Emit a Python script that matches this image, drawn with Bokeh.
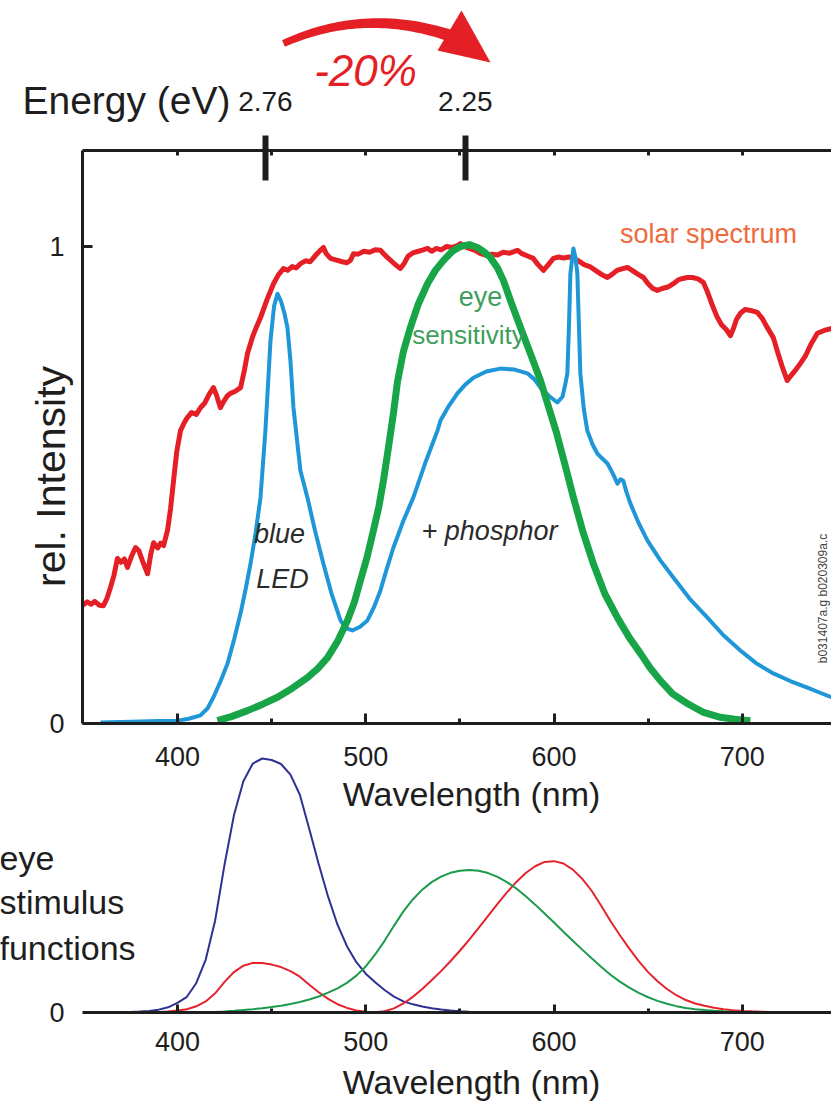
import numpy as np
from bokeh.plotting import figure
from bokeh.models import Range1d, FixedTicker, LinearAxis, Label
from bokeh.layouts import column
from bokeh.embed import file_html
from bokeh.resources import INLINE

# ---------------- data ----------------
solar_nm = [349.5, 352.0, 354.0, 356.0, 358.5, 360.7, 362.5, 364.4, 366.2, 368.1, 370.0, 371.8, 373.4,
            375.5, 377.7, 379.5, 381.5, 384.1, 385.8, 387.3, 389.5, 391.0, 392.6, 394.7, 396.3, 397.9,
            399.6, 401.6, 403.5, 405.3, 407.5, 410.0, 412.2, 414.5, 416.8, 419.1, 420.6, 422.8, 424.5,
            426.3, 428.1, 430.5, 433.5, 435.5, 437.2, 440.0, 442.0, 444.1, 447.5, 451.0, 453.5, 456.3,
            458.5, 461.0, 463.0, 465.3, 468.0, 470.5, 473.0, 475.9, 477.5, 479.0, 481.3, 484.0, 487.5,
            490.0, 491.9, 493.5, 496.0, 499.0, 502.0, 505.0, 507.8, 509.5, 511.5, 514.0, 516.3, 518.4,
            520.5, 522.5, 525.3, 528.0, 530.5, 532.8, 535.0, 537.5, 540.0, 543.0, 546.0, 548.7, 550.3,
            552.5, 555.0, 558.0, 561.0, 564.6, 567.0, 570.0, 573.0, 576.5, 580.6, 583.0, 586.0, 589.0,
            591.5, 594.4, 597.0, 599.7, 602.5, 605.0, 608.0, 610.3, 613.0, 616.0, 619.0, 622.0, 625.0,
            628.4, 631.0, 633.5, 636.0, 639.0, 641.5, 644.5, 647.5, 650.0, 652.5, 654.9, 657.5, 660.5,
            663.4, 666.0, 668.5, 670.8, 673.5, 676.5, 679.3, 681.5, 684.0, 686.8, 689.0, 691.5, 693.7,
            695.5, 697.0, 699.0, 701.5, 704.5, 708.0, 710.5, 713.0, 716.5, 719.0, 721.5, 723.9, 726.0,
            728.5, 730.9, 733.5, 736.5, 739.9, 743.5, 747.4]
solar_rel = [0.247, 0.255, 0.250, 0.256, 0.248, 0.247, 0.262, 0.285, 0.310, 0.346, 0.338, 0.345, 0.327,
             0.350, 0.369, 0.362, 0.340, 0.314, 0.355, 0.379, 0.368, 0.378, 0.373, 0.405, 0.450, 0.509,
             0.570, 0.614, 0.630, 0.642, 0.652, 0.648, 0.662, 0.672, 0.690, 0.704, 0.690, 0.662, 0.675,
             0.686, 0.692, 0.696, 0.704, 0.740, 0.776, 0.812, 0.832, 0.851, 0.888, 0.922, 0.940, 0.954,
             0.950, 0.958, 0.955, 0.964, 0.970, 0.968, 0.980, 0.992, 0.998, 0.985, 0.975, 0.972, 0.968,
             0.966, 0.971, 0.985, 0.984, 0.990, 0.988, 0.993, 0.992, 0.985, 0.977, 0.968, 0.960, 0.954,
             0.965, 0.980, 0.987, 0.990, 0.993, 0.996, 0.990, 0.996, 0.993, 1.000, 0.998, 1.002, 1.006,
             1.000, 0.996, 0.992, 0.985, 0.981, 0.984, 0.982, 0.988, 0.986, 0.992, 0.985, 0.980, 0.975,
             0.962, 0.950, 0.962, 0.975, 0.978, 0.976, 0.978, 0.975, 0.970, 0.962, 0.958, 0.950, 0.942,
             0.935, 0.942, 0.950, 0.953, 0.956, 0.950, 0.942, 0.935, 0.922, 0.912, 0.908, 0.912, 0.915,
             0.922, 0.930, 0.933, 0.935, 0.935, 0.932, 0.925, 0.905, 0.878, 0.851, 0.836, 0.826, 0.813,
             0.830, 0.848, 0.860, 0.868, 0.866, 0.862, 0.850, 0.832, 0.809, 0.776, 0.745, 0.719, 0.730,
             0.742, 0.755, 0.770, 0.795, 0.818, 0.824, 0.828]

led_nm = [359.1, 370.0, 380.4, 390.0, 400.0, 406.0, 412.2, 416.0, 419.1, 422.8, 426.6, 430.0, 433.5,
          436.2, 438.8, 441.5, 444.1, 446.7, 449.4, 451.3, 453.1, 455.0, 456.8, 458.4, 460.0, 461.6,
          465.3, 469.0, 473.0, 477.5, 482.0, 486.6, 489.5, 492.9, 497.0, 500.9, 504.5, 507.8, 511.0,
          514.7, 520.0, 525.3, 531.5, 538.1, 539.7, 544.0, 548.7, 553.0, 557.2, 564.0, 571.5, 579.0,
          585.9, 589.5, 592.8, 597.5, 601.8, 604.5, 606.2, 607.1, 608.0, 608.7, 610.3, 611.5, 612.4,
          613.2, 614.0, 615.8, 617.7, 620.5, 623.0, 625.5, 628.4, 631.0, 633.7, 635.3, 636.8, 638.5,
          640.6, 645.0, 649.6, 656.5, 663.4, 672.0, 681.5, 690.0, 699.0, 707.5, 716.5, 725.5, 734.6,
          741.0, 747.4]
led_rel = [0.002, 0.003, 0.004, 0.005, 0.006, 0.010, 0.017, 0.032, 0.055, 0.088, 0.126, 0.175, 0.231,
           0.282, 0.335, 0.400, 0.474, 0.614, 0.803, 0.875, 0.901, 0.885, 0.860, 0.830, 0.760, 0.662,
           0.530, 0.474, 0.405, 0.335, 0.270, 0.216, 0.200, 0.195, 0.203, 0.216, 0.245, 0.279, 0.322,
           0.369, 0.425, 0.474, 0.545, 0.614, 0.635, 0.665, 0.692, 0.711, 0.725, 0.738, 0.744, 0.742,
           0.734, 0.722, 0.704, 0.686, 0.673, 0.685, 0.715, 0.734, 0.840, 0.943, 0.996, 0.975, 0.943,
           0.840, 0.734, 0.660, 0.614, 0.585, 0.566, 0.556, 0.545, 0.526, 0.503, 0.512, 0.509, 0.485,
           0.461, 0.420, 0.384, 0.342, 0.306, 0.262, 0.222, 0.185, 0.153, 0.126, 0.105, 0.089, 0.075,
           0.065, 0.055]

eye_nm = [421.2, 429.0, 437.2, 445.0, 453.1, 461.0, 469.0, 474.5, 479.7, 485.0, 490.3, 494.0, 497.2,
          500.8, 504.1, 507.0, 509.4, 512.3, 514.7, 516.8, 520.0, 523.7, 528.0, 532.8, 537.0, 541.3,
          546.0, 550.3, 555.0, 559.3, 563.0, 566.2, 570.0, 573.1, 577.5, 582.2, 587.5, 592.8, 597.0,
          601.3, 606.0, 610.3, 615.5, 620.9, 627.0, 633.7, 640.0, 645.9, 651.0, 656.5, 663.0, 670.8,
          679.0, 688.4, 696.0, 704.3]
eye_rel = [0.006, 0.015, 0.027, 0.040, 0.055, 0.074, 0.096, 0.115, 0.138, 0.172, 0.216, 0.255, 0.300,
           0.350, 0.405, 0.455, 0.509, 0.585, 0.650, 0.715, 0.780, 0.830, 0.880, 0.922, 0.950, 0.971,
           0.990, 1.000, 1.004, 0.998, 0.988, 0.977, 0.955, 0.929, 0.880, 0.830, 0.775, 0.719, 0.665,
           0.610, 0.540, 0.474, 0.400, 0.335, 0.272, 0.222, 0.180, 0.147, 0.117, 0.090, 0.062, 0.042,
           0.024, 0.013, 0.009, 0.006]

# eye stimulus (colour matching) functions, 360..720 nm every 5 nm
cmf_nm = list(range(360, 725, 5))
cmf_red = [0.000130, 0.000232, 0.000415, 0.000742, 0.001368, 0.002236, 0.004243, 0.007650, 0.014310,
           0.023190, 0.043510, 0.077630, 0.134380, 0.214770, 0.283900, 0.328500, 0.348280, 0.348060,
           0.336200, 0.318700, 0.290800, 0.251100, 0.195360, 0.142100, 0.095640, 0.057950, 0.032010,
           0.014700, 0.004900, 0.002400, 0.009300, 0.029100, 0.063270, 0.109600, 0.165500, 0.225750,
           0.290400, 0.359700, 0.433450, 0.512050, 0.594500, 0.678400, 0.762100, 0.842500, 0.916300,
           0.978600, 1.026300, 1.056700, 1.062200, 1.045600, 1.002600, 0.938400, 0.854450, 0.751400,
           0.642400, 0.541900, 0.447900, 0.360800, 0.283500, 0.218700, 0.164900, 0.121200, 0.087400,
           0.063600, 0.046770, 0.032900, 0.022700, 0.015840, 0.011359, 0.008111, 0.005790, 0.004109,
           0.002899]
cmf_green = [0.000004, 0.000007, 0.000012, 0.000022, 0.000039, 0.000064, 0.000120, 0.000217, 0.000396,
             0.000640, 0.001210, 0.002180, 0.004000, 0.007300, 0.011600, 0.016840, 0.023000, 0.029800,
             0.038000, 0.048000, 0.060000, 0.073900, 0.090980, 0.112600, 0.139020, 0.169300, 0.208020,
             0.258600, 0.323000, 0.407300, 0.503000, 0.608200, 0.710000, 0.793200, 0.862000, 0.914850,
             0.954000, 0.980300, 0.994950, 1.000000, 0.995000, 0.978600, 0.952000, 0.915400, 0.870000,
             0.816300, 0.757000, 0.694900, 0.631000, 0.566800, 0.503000, 0.441200, 0.381000, 0.321000,
             0.265000, 0.217000, 0.175000, 0.138200, 0.107000, 0.081600, 0.061000, 0.044580, 0.032000,
             0.023200, 0.017000, 0.011920, 0.008210, 0.005723, 0.004102, 0.002929, 0.002091, 0.001484,
             0.001047]
cmf_blue = [0.000606, 0.001086, 0.001946, 0.003486, 0.006450, 0.010550, 0.020050, 0.036210, 0.067850,
            0.110200, 0.207400, 0.371300, 0.645600, 1.039050, 1.385600, 1.622960, 1.747060, 1.782600,
            1.772110, 1.744100, 1.669200, 1.528100, 1.287640, 1.041900, 0.812950, 0.616200, 0.465180,
            0.353300, 0.272000, 0.212300, 0.158200, 0.111700, 0.078250, 0.057250, 0.042160, 0.029840,
            0.020300, 0.013400, 0.008750, 0.005750, 0.003900, 0.002750, 0.002100, 0.001800, 0.001650,
            0.001400, 0.001100, 0.001000, 0.000800, 0.000600, 0.000340, 0.000240, 0.000190, 0.000100,
            0.000050, 0.000030, 0.000020, 0.000010, 0.0, 0.0, 0.0, 0.0, 0.0, 0.0, 0.0, 0.0, 0.0, 0.0,
            0.0, 0.0, 0.0, 0.0, 0.0]

wl_major = [400, 500, 600, 700]
wl_minor = [450, 550, 650]
wl_top_minor = [400, 450, 500, 550, 600, 650, 700]
energy_tick_nm = [446.7, 552.9]
energy_tick_labels = ["2.76", "2.25"]
intensity_ticks = [0, 1]
stimulus_ticks = [0]

# ---------------- page geometry (page pixels, origin top-left) ----------------
FONT = "Liberation Sans"
INK = "#1e1e1e"
RED = "#e41f26"
X0PX, PXNM = 177.0, 1.8825
TOP0, TOPU = 723.0, 477.0
BOT0 = 1012.0
BOTU = (1012.0 - 758.0) / 1.7826
W, H = 831, 1102


def X(px):
    return 400 + (px - X0PX) / PXNM


def Y1(py):
    return (TOP0 - py) / TOPU


def Y2(py):
    return (BOT0 - py) / BOTU


def style_axis(ax, size="27px", standoff=18):
    ax.axis_line_width = 3
    ax.axis_line_color = INK
    ax.major_tick_line_width = 3
    ax.major_tick_line_color = INK
    ax.minor_tick_line_width = 3
    ax.minor_tick_line_color = INK
    ax.major_label_text_font = FONT
    ax.major_label_text_font_size = size
    ax.major_label_text_color = INK
    ax.major_label_standoff = standoff


def lab(p, text, x, y, size, color=INK, style="normal", angle=0.0, align="center"):
    p.add_layout(Label(x=x, y=y, text=text, text_font=FONT, text_font_size=size,
                       text_color=color, text_font_style=style, angle=angle,
                       text_align=align, text_baseline="middle"))


x_range = Range1d(X(82), X(W))

# ---------------- top panel ----------------
p1 = figure(width=W, height=815, x_range=x_range, y_range=Range1d(0, Y1(150)),
            output_backend="svg", toolbar_location=None, title=None,
            min_border_left=82, min_border_right=0, min_border_top=150, min_border_bottom=92)
p1.xgrid.visible = False
p1.ygrid.visible = False
p1.outline_line_color = None

bx = p1.xaxis[0]
bx.ticker = FixedTicker(ticks=wl_major, minor_ticks=wl_minor)
style_axis(bx, "27px", 23)
bx.major_tick_in, bx.major_tick_out = 10, 0
bx.minor_tick_in, bx.minor_tick_out = 5, 0

ly = p1.yaxis[0]
ly.ticker = FixedTicker(ticks=intensity_ticks, minor_ticks=[])
style_axis(ly, "27px", 18)
ly.major_tick_in, ly.major_tick_out = 10, 0
ly.minor_tick_line_color = None

top_ax = LinearAxis(ticker=FixedTicker(ticks=energy_tick_nm, minor_ticks=wl_top_minor),
                    major_label_overrides=dict(zip(energy_tick_nm, energy_tick_labels)))
style_axis(top_ax, "28px", 25)
top_ax.major_tick_in, top_ax.major_tick_out = 30, 15
top_ax.major_tick_line_width = 6
top_ax.minor_tick_in, top_ax.minor_tick_out = 5, 0
p1.add_layout(top_ax, "above")

p1.line(solar_nm, solar_rel, line_color=RED, line_width=5, line_join="round")
p1.line(led_nm, led_rel, line_color="#1f96d8", line_width=4, line_join="round")
p1.line(eye_nm, eye_rel, line_color="#17a548", line_width=7, line_join="round")

lab(p1, "solar spectrum", X(708), Y1(233), "27px", "#ef6a3c")
lab(p1, "eye", X(480), Y1(296), "27px", "#3f9e5b")
lab(p1, "sensitivity", X(468), Y1(334), "26px", "#3f9e5b")
lab(p1, "blue", X(279), Y1(533), "27px", "#2b2b2b", "italic")
lab(p1, "LED", X(282), Y1(578), "27px", "#2b2b2b", "italic")
lab(p1, "+ phosphor", X(489), Y1(530), "27px", "#2b2b2b", "italic")
lab(p1, "b031407a.g b020309a.c", X(822), Y1(598), "12px", "#444444", angle=np.pi / 2)

# ---------------- bottom panel ----------------
p2 = figure(width=W, height=357, x_range=x_range, y_range=Range1d(0, Y2(745)),
            output_backend="svg", toolbar_location=None, title=None,
            min_border_left=82, min_border_right=0, min_border_top=0, min_border_bottom=90,
            background_fill_color=None, border_fill_color=None)
p2.margin = (-70, 0, 0, 0)
p2.xgrid.visible = False
p2.ygrid.visible = False
p2.outline_line_color = None

bx2 = p2.xaxis[0]
bx2.ticker = FixedTicker(ticks=wl_major, minor_ticks=wl_minor)
style_axis(bx2, "27px", 19)
bx2.major_tick_in, bx2.major_tick_out = 8, 0
bx2.minor_tick_in, bx2.minor_tick_out = 4, 0

ly2 = p2.yaxis[0]
ly2.ticker = FixedTicker(ticks=stimulus_ticks, minor_ticks=[])
style_axis(ly2, "27px", 18)
ly2.axis_line_color = None
ly2.major_tick_line_color = None
ly2.minor_tick_line_color = None
ly2.major_tick_in, ly2.major_tick_out = 0, 0
ly2.minor_tick_in, ly2.minor_tick_out = 0, 0

p2.line(cmf_nm, cmf_blue, line_color="#2e3192", line_width=2)
p2.line(cmf_nm, cmf_red, line_color="#e4232f", line_width=2)
p2.line(cmf_nm, cmf_green, line_color="#1c9a4c", line_width=2)

# ---------------- text / arrow layer over the whole page (page pixel coordinates) ----------------
ov = figure(width=W, height=H, x_range=Range1d(0, W), y_range=Range1d(H, 0),
            x_axis_type=None, y_axis_type=None, output_backend="svg", toolbar_location=None,
            title=None, min_border=0, min_border_left=0, min_border_right=0,
            min_border_top=0, min_border_bottom=0, outline_line_color=None,
            background_fill_color=None, border_fill_color=None)
ov.frame_align = False
ov.margin = (-H, 0, 0, 0)
ov.xgrid.visible = False
ov.ygrid.visible = False

t = np.linspace(0, 1, 40)
P0, PC, P2 = (283.0, 43.0), (365.0, 6.0), (452.0, 36.0)
cx = (1 - t) ** 2 * P0[0] + 2 * (1 - t) * t * PC[0] + t ** 2 * P2[0]
cy = (1 - t) ** 2 * P0[1] + 2 * (1 - t) * t * PC[1] + t ** 2 * P2[1]
dx = 2 * (1 - t) * (PC[0] - P0[0]) + 2 * t * (P2[0] - PC[0])
dy = 2 * (1 - t) * (PC[1] - P0[1]) + 2 * t * (P2[1] - PC[1])
nrm = np.hypot(dx, dy)
nx, ny = -dy / nrm, dx / nrm
hw = 3.5 + 2.5 * t
ov.patch(np.concatenate([cx + nx * hw, (cx - nx * hw)[::-1]]).tolist(),
         np.concatenate([cy + ny * hw, (cy - ny * hw)[::-1]]).tolist(),
         fill_color=RED, line_color=None)
ov.patch([461.0, 490.0, 437.0], [10.0, 62.0, 50.0], fill_color=RED, line_color=None)

lab(ov, "-20%", 365, 70, "44px", RED, "italic")
lab(ov, "Energy (eV)", 126, 100, "39px")
lab(ov, "rel. Intensity", 50, 476, "41px", angle=np.pi / 2)
lab(ov, "Wavelength (nm)", 471, 793, "34px")
lab(ov, "eye", -1, 857, "34px", align="left")
lab(ov, "stimulus", -1, 901, "34px", align="left")
lab(ov, "functions", -1, 947, "34px", align="left")
lab(ov, "Wavelength (nm)", 471, 1081, "34px")

page = column(p1, p2, ov)
open("out.html", "w").write(file_html(page, INLINE))
